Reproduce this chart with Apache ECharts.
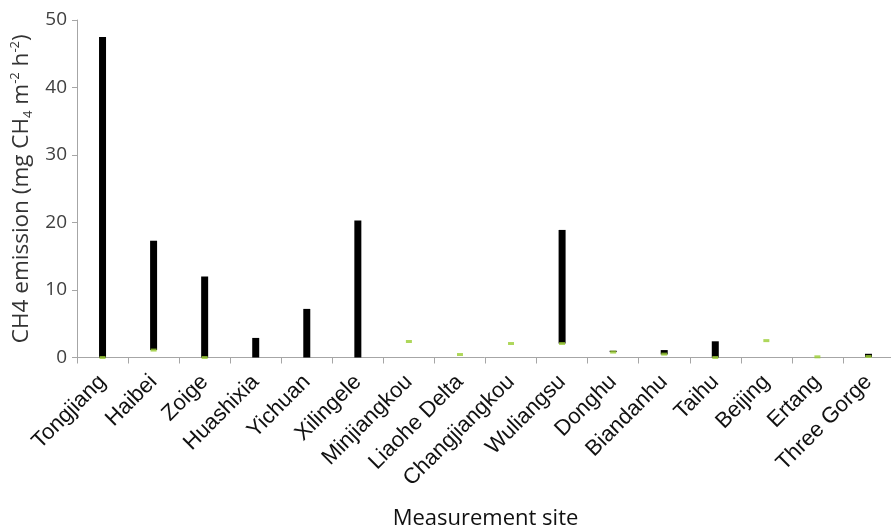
<!DOCTYPE html>
<html>
<head>
<meta charset="utf-8">
<script src="https://cdn.jsdelivr.net/npm/echarts@6/dist/echarts.min.js"></script>
<style>html,body{margin:0;padding:0;background:#fff;}#c{width:891px;height:526px;}</style>
</head>
<body>
<div id="c"></div>
<script>
const categories = ['Tongjiang', 'Haibei', 'Zoige', 'Huashixia', 'Yichuan', 'Xilingele', 'Minjiangkou', 'Liaohe Delta', 'Changjiangkou', 'Wuliangsu', 'Donghu', 'Biandanhu', 'Taihu', 'Beijing', 'Ertang', 'Three Gorge'];
const lowValues = [0, 1.1, 0, 0, 0, 0, 2.37, 0.44, 2.07, 2.07, 0.8, 0.45, 0, 2.5, 0.1, 0.1];
const highValues = [47.5, 17.3, 12.0, 2.9, 7.2, 20.3, 2.37, 0.44, 2.07, 18.9, 1.0, 1.1, 2.4, 2.5, 0.1, 0.55];
const markerValues = [0, 1.1, 0, null, null, null, 2.37, 0.44, 2.07, 2.07, 0.8, 0.5, 0, 2.5, 0.1, 0.15];
const yTicks = [0, 10, 20, 30, 40, 50];

const rangeValues = highValues.map((h, i) => +(h - lowValues[i]).toFixed(3));

const chart = echarts.init(document.getElementById('c'), null, {renderer: 'canvas'});
chart.setOption({
  animation: false,
  backgroundColor: '#ffffff',
  grid: {left: 77, top: 20, width: 817, height: 337.5, containLabel: false, outerBoundsMode: 'none'},
  xAxis: {
    type: 'category',
    data: categories,
    boundaryGap: true,
    axisLine: {show: true, lineStyle: {color: '#a6a6a6', width: 1}},
    axisTick: {show: true, length: 6, alignWithLabel: false, lineStyle: {color: '#a6a6a6'}},
    axisLabel: {interval: 0, rotate: 45, fontSize: 22, color: '#111', fontFamily: 'Liberation Sans', margin: 21},
    splitLine: {show: false},
    name: 'Measurement site',
    nameLocation: 'middle',
    nameGap: 150,
    nameTextStyle: {fontSize: 22, color: '#111', fontFamily: 'Open Sans'}
  },
  yAxis: {
    type: 'value',
    min: yTicks[0],
    max: yTicks[yTicks.length - 1],
    interval: yTicks[1] - yTicks[0],
    axisLine: {show: true, lineStyle: {color: '#a6a6a6', width: 1}},
    axisTick: {show: true, length: 5, lineStyle: {color: '#a6a6a6'}},
    axisLabel: {fontSize: 19, color: '#404040', fontFamily: 'Open Sans', margin: 10},
    splitLine: {show: false},
    name: '{a|CH4 emission (mg CH}{b|4}{a| m}{c|-2}{a| h}{c|-2}{a|)}',
    nameLocation: 'middle',
    nameGap: 39,
    nameRotate: 90,
    nameTextStyle: {
      fontSize: 22.5, color: '#333', fontFamily: 'Open Sans',
      rich: {
        a: {fontSize: 22.5, color: '#333', fontFamily: 'Open Sans', lineHeight: 26, verticalAlign: 'middle'},
        b: {fontSize: 13, color: '#333', fontFamily: 'Open Sans', lineHeight: 26, verticalAlign: 'bottom'},
        c: {fontSize: 13, color: '#333', fontFamily: 'Open Sans', lineHeight: 26, verticalAlign: 'top'}
      }
    }
  },
  series: [
    {
      name: 'base', type: 'bar', stack: 'range', data: lowValues, barWidth: 7,
      itemStyle: {color: 'rgba(0,0,0,0)'}, silent: true
    },
    {
      name: 'range', type: 'bar', stack: 'range', data: rangeValues, barWidth: 7,
      itemStyle: {color: '#000000'}
    },
    {
      name: 'min', type: 'scatter', data: markerValues, symbol: 'rect', symbolSize: [6, 3],
      itemStyle: {color: '#9acd32'}, z: 5
    }
  ]
});
</script>
</body>
</html>
